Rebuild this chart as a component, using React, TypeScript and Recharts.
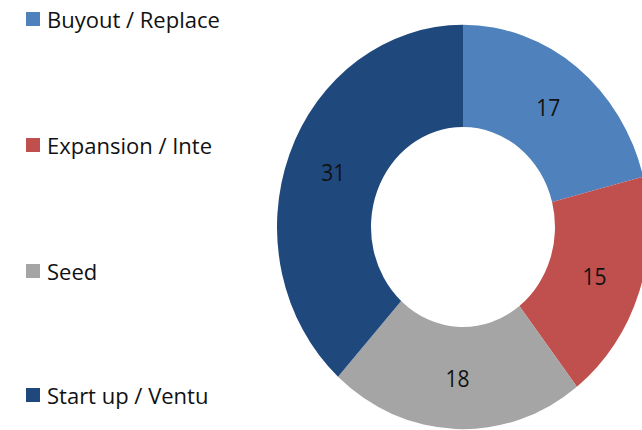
import React from "react";
import { PieChart, Pie, Cell } from "recharts";

const categories = ["Buyout / Replace", "Expansion / Inte", "Seed", "Start up / Ventu"];
const values = [17, 15, 18, 31];
const colors = ["#4F81BD", "#C0504D", "#A5A5A5", "#1F497D"];
const legendRows = [19, 145, 271, 395];

const data = categories.map((name, i) => ({ name, value: values[i] }));

const RAD = Math.PI / 180;

function renderLabel(props: any) {
  const { cx, cy, midAngle, innerRadius, outerRadius, value } = props;
  const r = (innerRadius + outerRadius) / 2;
  const x = cx + r * Math.cos(-midAngle * RAD);
  const y = cy + r * Math.sin(-midAngle * RAD);
  return (
    <text
      x={x}
      y={y}
      textAnchor="middle"
      dominantBaseline="central"
      fill="#111"
      fontSize={21}
      fontFamily="'Open Sans', sans-serif"
    >
      {value}
    </text>
  );
}

export default function App() {
  return (
    <div
      style={{
        position: "absolute",
        left: 0,
        top: 0,
        width: 642,
        height: 430,
        overflow: "hidden",
        background: "#fff",
      }}
    >
      <div
        style={{
          position: "absolute",
          left: 0,
          top: 0,
          transform: "scaleY(1.087)",
          transformOrigin: "463px 227px",
        }}
      >
        <PieChart width={642} height={430} margin={{ top: 0, right: 0, bottom: 0, left: 0 }}>
          <Pie
            data={data}
            dataKey="value"
            nameKey="name"
            cx={463}
            cy={227}
            innerRadius={92}
            outerRadius={186}
            startAngle={90}
            endAngle={-270}
            stroke="none"
            label={renderLabel}
            labelLine={false}
            isAnimationActive={false}
          >
            {data.map((d, i) => (
              <Cell key={d.name} fill={colors[i]} />
            ))}
          </Pie>
        </PieChart>
      </div>
      {categories.map((c, i) => (
        <div
          key={c}
          style={{
            position: "absolute",
            left: 26,
            top: legendRows[i] - 15,
            height: 30,
            display: "flex",
            alignItems: "center",
            fontFamily: "'Open Sans', sans-serif",
            fontSize: 22,
            color: "#111",
            whiteSpace: "nowrap",
          }}
        >
          <span
            style={{
              display: "inline-block",
              width: 14,
              height: 14,
              background: colors[i],
              marginRight: 7,
            }}
          />
          {c}
        </div>
      ))}
    </div>
  );
}
